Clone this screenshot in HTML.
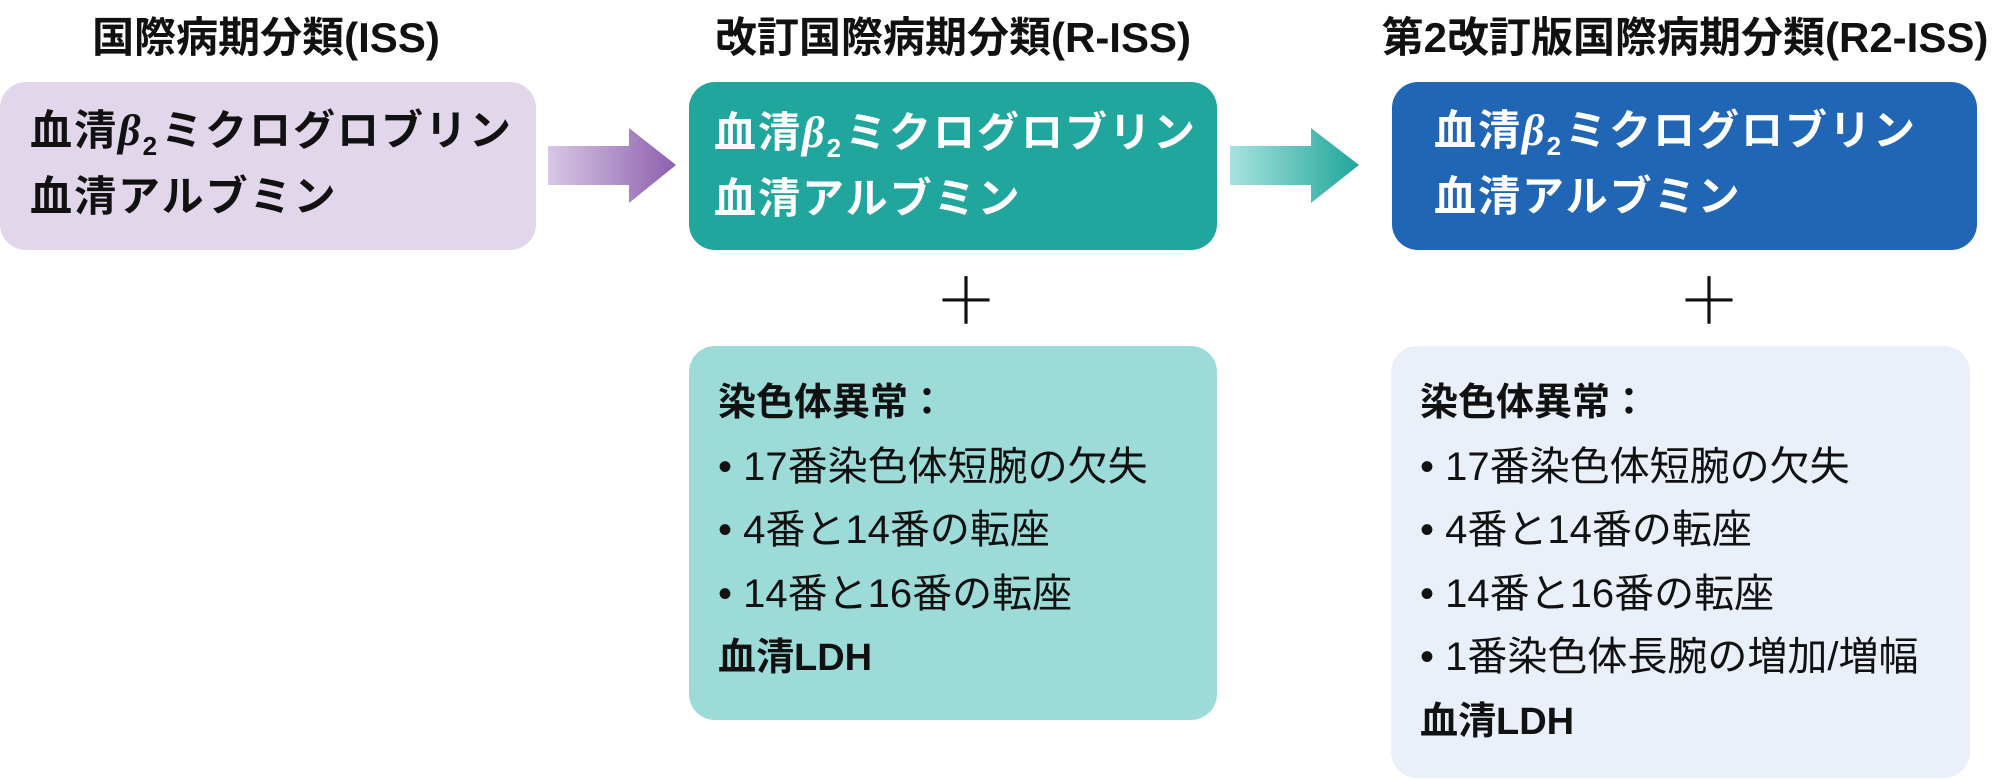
<!DOCTYPE html>
<html><head><meta charset="utf-8"><style>
body{margin:0;width:1992px;height:780px;background:#fff;position:relative;overflow:hidden;font-family:"Liberation Sans","Noto Sans CJK JP",sans-serif;}
.a{position:absolute;}
.t{font-weight:bold;font-size:42px;color:#111;text-align:center;top:4px;white-space:nowrap;letter-spacing:0px}
.box{position:absolute;border-radius:26px;}
.bt{position:absolute;font-weight:bold;font-size:42px;line-height:66px;white-space:nowrap;letter-spacing:2px}
.bt i{font-family:"Liberation Serif",serif;font-size:44px}
.bt sub{font-size:26px;vertical-align:-10px;margin-right:2px;line-height:0}
.lt{position:absolute;font-size:40px;line-height:63.5px;white-space:nowrap;color:#111}
.lt b{font-weight:bold;font-size:38px}
.plus{position:absolute;font-size:64px;line-height:64px;color:#111;font-weight:300}
</style></head><body>
<div class="a t" style="left:66px;width:400px">国際病期分類(ISS)</div>
<div class="a t" style="left:683px;width:540px">改訂国際病期分類(R-ISS)</div>
<div class="a t" style="left:1360px;width:650px">第2改訂版国際病期分類(R2-ISS)</div>

<div class="box" style="left:0;top:82px;width:536px;height:168px;background:#e1d6ea"></div>
<div class="bt" style="left:30px;top:98px;color:#111">血清<i>β</i><sub>2</sub>ミクログロブリン<br>血清アルブミン</div>

<svg class="a" style="left:548px;top:126px" width="130" height="80"><defs><linearGradient id="g1"><stop offset="0" stop-color="#d8c8e4"/><stop offset="1" stop-color="#8d5fad"/></linearGradient><linearGradient id="g2"><stop offset="0" stop-color="#a8e2de"/><stop offset="1" stop-color="#1ea69a"/></linearGradient></defs><polygon points="0,20 81,20 81,2 128,39 81,77 81,59 0,59" fill="url(#g1)"/></svg>

<div class="box" style="left:689px;top:82px;width:528px;height:168px;background:#20a69c"></div>
<div class="bt" style="left:714px;top:100px;color:#fff">血清<i>β</i><sub>2</sub>ミクログロブリン<br>血清アルブミン</div>

<svg class="a" style="left:1230px;top:126px" width="130" height="80"><polygon points="0,20 81,20 81,2 129,39 81,77 81,59 0,59" fill="url(#g2)"/></svg>

<div class="box" style="left:1392px;top:82px;width:585px;height:168px;background:#2166b5"></div>
<div class="bt" style="left:1434px;top:98px;color:#fff">血清<i>β</i><sub>2</sub>ミクログロブリン<br>血清アルブミン</div>

<div class="plus" style="left:934px;top:270px">＋</div>
<div class="plus" style="left:1677px;top:270px">＋</div>

<div class="box" style="left:689px;top:346px;width:528px;height:374px;background:#9cdbd8"></div>
<div class="lt" style="left:718px;top:371px"><b>染色体異常：</b><br>• 17番染色体短腕の欠失<br>• 4番と14番の転座<br>• 14番と16番の転座<br><b>血清LDH</b></div>

<div class="box" style="left:1391px;top:346px;width:579px;height:432px;background:#e9f0fa"></div>
<div class="lt" style="left:1420px;top:371px"><b>染色体異常：</b><br>• 17番染色体短腕の欠失<br>• 4番と14番の転座<br>• 14番と16番の転座<br>• 1番染色体長腕の増加/増幅<br><b>血清LDH</b></div>
</body></html>
